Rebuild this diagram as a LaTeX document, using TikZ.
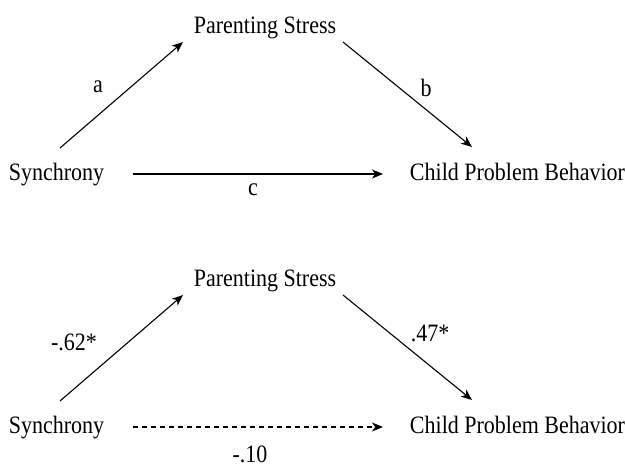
\documentclass[tikz,border=0pt]{standalone}
\usepackage{fontspec}
\setmainfont{Liberation Serif}[FakeStretch=0.88]
\usetikzlibrary{arrows.meta}
\begin{document}
\begin{tikzpicture}[x=0.5pt,y=-0.5pt,
  lbl/.style={inner sep=0pt,anchor=base,font=\fontsize{12.5}{15}\selectfont},
  elbl/.style={inner sep=0pt,font=\fontsize{12.5}{15}\selectfont},
  arr/.style={line width=0.55pt,-{Stealth[length=5.5pt,width=4.5pt,inset=1.6pt]}},
  darr/.style={arr,dash pattern=on 2.5pt off 2pt}]
\useasboundingbox (0,0) rectangle (625,467);
% top panel
\node[lbl] (ps1) at (265,33) {Parenting Stress};
\node[lbl] (syn1) at (56.5,180) {Synchrony};
\node[lbl] (cpb1) at (517.5,180) {Child Problem Behavior};
\draw[arr] ([shift={(3.5,-32)}]syn1.base) -- ([shift={(-82,9)}]ps1.base);
\draw[arr] ([shift={(78,9)}]ps1.base) -- ([shift={(-45.5,-33)}]cpb1.base);
\draw[arr] ([shift={(76.5,-6)}]syn1.base) -- ([shift={(-134.5,-6)}]cpb1.base);
\node[elbl] (la) at (98,87) {a};
\node[elbl] (lb) at (426,88) {b};
\node[elbl] (lc) at (253,190) {c};
% bottom panel
\node[lbl] (ps2) at (265,286) {Parenting Stress};
\node[lbl] (syn2) at (56.5,433) {Synchrony};
\node[lbl] (cpb2) at (517.5,433) {Child Problem Behavior};
\draw[arr] ([shift={(3.5,-32)}]syn2.base) -- ([shift={(-82,9)}]ps2.base);
\draw[arr] ([shift={(78,9)}]ps2.base) -- ([shift={(-45.5,-33)}]cpb2.base);
\draw[darr] ([shift={(76.5,-6)}]syn2.base) -- ([shift={(-134.5,-6)}]cpb2.base);
\node[elbl] (l62) at (74,342) {-.62*};
\node[elbl] (l47) at (430,333) {.47*};
\node[elbl] (l10) at (250,454) {-.10};
\end{tikzpicture}
\end{document}
